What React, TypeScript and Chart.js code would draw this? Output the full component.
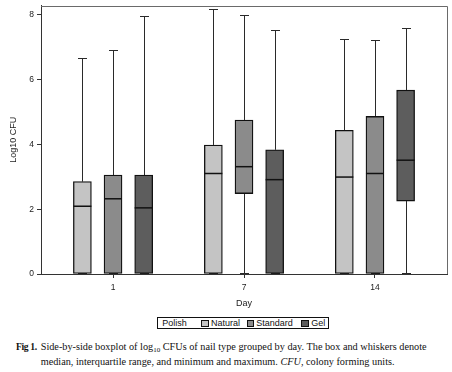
import React, { useEffect, useRef } from 'react';
import { Chart, registerables } from 'chart.js';
Chart.register(...registerables);

const days = ['1', '7', '14'];
const seriesNames = ['Natural', 'Standard', 'Gel'];
const seriesColors = ['#c4c4c4', '#8b8b8b', '#5d5d5d'];
const yTicks = [0, 2, 4, 6, 8];

const naturalMin = [0, 0, 0];
const naturalQ1 = [0, 0, 0];
const naturalMedian = [2.09, 3.1, 2.99];
const naturalQ3 = [2.85, 3.98, 4.43];
const naturalMax = [6.65, 8.17, 7.25];

const standardMin = [0, 0, 0];
const standardQ1 = [0, 2.48, 0];
const standardMedian = [2.32, 3.31, 3.1];
const standardQ3 = [3.05, 4.75, 4.86];
const standardMax = [6.9, 8.0, 7.22];

const gelMin = [0, 0, 0];
const gelQ1 = [0, 0, 2.25];
const gelMedian = [2.04, 2.91, 3.51];
const gelQ3 = [3.05, 3.83, 5.67];
const gelMax = [7.95, 7.53, 7.58];

const stats = [
  { min: naturalMin, q1: naturalQ1, med: naturalMedian, q3: naturalQ3, max: naturalMax },
  { min: standardMin, q1: standardQ1, med: standardMedian, q3: standardQ3, max: standardMax },
  { min: gelMin, q1: gelQ1, med: gelMedian, q3: gelQ3, max: gelMax },
];

const groupOffsets = [-0.234, 0, 0.234];

const boxPlugin = {
  id: 'boxWhiskers',
  beforeDatasetsDraw(chart: any) {
    const ctx = chart.ctx;
    const y = chart.scales.y;
    const area = chart.chartArea;
    ctx.save();
    ctx.strokeStyle = '#6a6a6a';
    ctx.lineWidth = 1;
    ctx.beginPath();
    ctx.moveTo(area.left, Math.round(area.top) + 0.5);
    ctx.lineTo(Math.round(area.right) + 0.5, Math.round(area.top) + 0.5);
    ctx.lineTo(Math.round(area.right) + 0.5, area.bottom);
    ctx.stroke();
    ctx.strokeStyle = '#2a2a2a';
    stats.forEach((st, s) => {
      const meta = chart.getDatasetMeta(s);
      meta.data.forEach((bar: any, i: number) => {
        const x = Math.round(bar.x) + 0.5;
        const pMax = Math.round(y.getPixelForValue(st.max[i])) + 0.5;
        const pMin = Math.round(y.getPixelForValue(st.min[i])) - 0.5;
        const pQ1 = y.getPixelForValue(st.q1[i]);
        const pQ3 = y.getPixelForValue(st.q3[i]);
        ctx.beginPath();
        ctx.moveTo(x, pQ3);
        ctx.lineTo(x, pMax);
        ctx.moveTo(x - 4.5, pMax);
        ctx.lineTo(x + 4.5, pMax);
        ctx.moveTo(x, pQ1);
        ctx.lineTo(x, pMin);
        ctx.moveTo(x - 4.5, pMin);
        ctx.lineTo(x + 4.5, pMin);
        ctx.stroke();
      });
    });
    ctx.restore();
  },
  afterDatasetsDraw(chart: any) {
    const ctx = chart.ctx;
    const y = chart.scales.y;
    ctx.save();
    ctx.strokeStyle = '#111';
    ctx.lineWidth = 1.5;
    stats.forEach((st, s) => {
      const meta = chart.getDatasetMeta(s);
      meta.data.forEach((bar: any, i: number) => {
        const py = y.getPixelForValue(st.med[i]);
        ctx.beginPath();
        ctx.moveTo(bar.x - bar.width / 2, py);
        ctx.lineTo(bar.x + bar.width / 2, py);
        ctx.stroke();
      });
    });
    ctx.restore();
  },
};

function BoxChart() {
  const ref = useRef<HTMLCanvasElement>(null);
  useEffect(() => {
    if (!ref.current) return;
    const datasets = seriesNames.map((name, s) => ({
      label: name,
      data: days.map((_, i) => ({ x: i + groupOffsets[s], y: [stats[s].q1[i], stats[s].q3[i]] })),
      backgroundColor: seriesColors[s],
      borderColor: '#111',
      borderWidth: 1.3,
      borderSkipped: false,
      barThickness: 18,
      grouped: false,
    }));
    const chart = new Chart(ref.current, {
      type: 'bar',
      data: { datasets: datasets as any },
      options: {
        animation: false,
        responsive: false,
        maintainAspectRatio: false,
        layout: { padding: { left: 5, right: 5, top: 3.5, bottom: 0 } },
        plugins: { legend: { display: false }, tooltip: { enabled: false } },
        scales: {
          x: {
            type: 'linear',
            offset: false,
            min: -0.55,
            max: 2.55,
            afterBuildTicks: (scale: any) => {
              scale.ticks = days.map((_, i) => ({ value: i }));
            },
            afterFit: (scale: any) => {
              scale.height = 36;
            },
            ticks: {
              callback: (v: any) => days[v] ?? '',
              font: { family: 'Liberation Sans', size: 8.5 },
              color: '#222',
              padding: 5,
              maxRotation: 0,
            },
            grid: { display: true, drawOnChartArea: false, drawTicks: true, tickLength: 4, color: '#333', offset: false },
            border: { display: true, color: '#333', width: 1 },
            title: {
              display: true,
              text: 'Day',
              font: { family: 'Liberation Sans', size: 9 },
              color: '#222',
              padding: { top: 0, bottom: 1 },
            },
          },
          y: {
            type: 'linear',
            min: 0,
            max: 8.28,
            afterBuildTicks: (scale: any) => {
              scale.ticks = yTicks.map((v) => ({ value: v }));
            },
            afterFit: (scale: any) => {
              scale.width = 36;
            },
            ticks: {
              font: { family: 'Liberation Sans', size: 8.5, lineHeight: 0.6 },
              color: '#222',
              padding: 3,
            },
            grid: { display: true, drawOnChartArea: false, drawTicks: true, tickLength: 4, color: '#333' },
            border: { display: true, color: '#333', width: 1 },
            title: {
              display: true,
              text: 'Log10 CFU',
              font: { family: 'Liberation Sans', size: 9 },
              color: '#222',
              padding: { top: 3, bottom: 0 },
            },
          },
        },
      },
      plugins: [boxPlugin],
    });
    return () => chart.destroy();
  }, []);
  return <canvas ref={ref} width={452} height={310} style={{ position: 'absolute', left: 0, top: 0 }} />;
}

const legendFont = { fontFamily: 'Liberation Sans', fontSize: 9, color: '#111', lineHeight: '11px' };
const legendItems = [
  { swatch: 201, text: 211 },
  { swatch: 246.5, text: 256.3 },
  { swatch: 301, text: 311.3 },
];

export default function App() {
  return (
    <div style={{ position: 'fixed', left: 0, top: 0, width: 452, height: 372, background: '#fff', overflow: 'hidden' }}>
      <BoxChart />
      <div
        style={{
          position: 'absolute',
          left: 157,
          top: 317,
          width: 172,
          height: 12,
          border: '1px solid #111',
          boxSizing: 'border-box',
        }}
      />
      <div style={{ position: 'absolute', left: 162.3, top: 317.5, ...legendFont }}>Polish</div>
      {seriesNames.map((name, s) => (
        <React.Fragment key={name}>
          <div
            style={{
              position: 'absolute',
              left: legendItems[s].swatch,
              top: 319.5,
              width: 7.5,
              height: 7.5,
              boxSizing: 'border-box',
              border: '1px solid #111',
              background: seriesColors[s],
            }}
          />
          <div style={{ position: 'absolute', left: legendItems[s].text, top: 317.5, ...legendFont }}>{name}</div>
        </React.Fragment>
      ))}
      <div
        style={{
          position: 'absolute',
          left: 16,
          top: 341,
          fontFamily: 'Liberation Serif',
          fontSize: 10.25,
          lineHeight: '11px',
          color: '#111',
          whiteSpace: 'nowrap',
        }}
      >
        <span style={{ position: 'absolute', left: 0, top: 0, fontWeight: 'bold', fontSize: 9.6, letterSpacing: -0.35 }}>Fig 1.</span>
        <div style={{ position: 'absolute', left: 24.7, top: 0 }}>
          Side-by-side boxplot of log<span style={{ fontSize: 7, verticalAlign: -2 }}>10</span> CFUs of nail type grouped by day. The box and whiskers denote
          <br />
          median, interquartile range, and minimum and maximum. <i>CFU</i>, colony forming units.
        </div>
      </div>
    </div>
  );
}
